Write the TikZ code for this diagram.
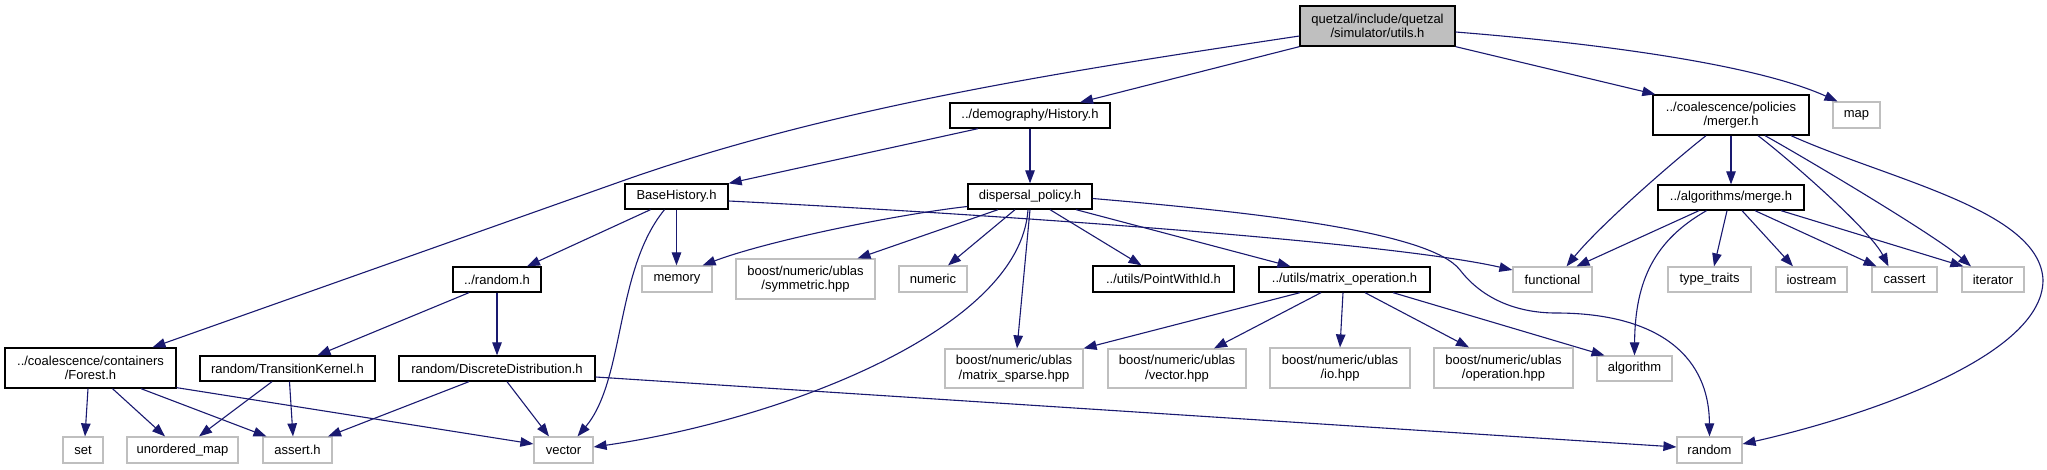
\documentclass[tikz,border=0pt]{standalone}
\usepackage{fontspec}
\setmainfont{Liberation Sans}
\usetikzlibrary{arrows.meta}
\definecolor{edgeblue}{HTML}{191970}
\definecolor{sysgray}{HTML}{BFBFBF}
\definecolor{rootfill}{HTML}{BFBFBF}
\tikzset{
  lbl/.style={font=\fontsize{13}{14.5}\selectfont, inner sep=0pt, align=center, rectangle},
  inc/.style={lbl, draw=black, line width=1.3pt, fill=white},
  sys/.style={lbl, draw=sysgray, line width=1.2pt, fill=white},
  root/.style={lbl, draw=black, line width=1.3pt, fill=rootfill},
  e/.style={draw=edgeblue, line width=1.1pt, -{Triangle[length=13pt,width=9.5pt]}},
}
\begin{document}
\begin{tikzpicture}[x=1pt,y=-1pt]
\fill[white] (0,0) rectangle (2047,469);
\useasboundingbox (0,0) rectangle (2047,469);
% nodes
\node[root, minimum width=155, minimum height=40] (utils) at (1377.5,26) {quetzal/include/quetzal\\/simulator/utils.h};
\node[inc, minimum width=160, minimum height=25] (history) at (1030,115.5) {../demography/History.h};
\node[inc, minimum width=156, minimum height=40] (merger) at (1731,115) {../coalescence/policies\\/merger.h};
\node[sys, minimum width=47, minimum height=26] (map) at (1856.5,115) {map};
\node[inc, minimum width=103, minimum height=25] (basehist) at (676.5,196.5) {BaseHistory.h};
\node[inc, minimum width=124, minimum height=25] (dispersal) at (1030,196.5) {dispersal\_policy.h};
\node[inc, minimum width=146, minimum height=25] (merge) at (1731,197.5) {../algorithms/merge.h};
\node[inc, minimum width=88, minimum height=25] (randomh) at (497,279.5) {../random.h};
\node[sys, minimum width=70, minimum height=26] (memory) at (677,279) {memory};
\node[sys, minimum width=139, minimum height=40] (symmetric) at (805.5,279) {boost/numeric/ublas\\/symmetric.hpp};
\node[sys, minimum width=68, minimum height=26] (numeric) at (933,279) {numeric};
\node[inc, minimum width=141, minimum height=26] (pointwithid) at (1163.5,279) {../utils/PointWithId.h};
\node[inc, minimum width=171, minimum height=25] (matop) at (1344.5,279.5) {../utils/matrix\_operation.h};
\node[sys, minimum width=79, minimum height=25] (functional) at (1552.5,279.5) {functional};
\node[sys, minimum width=83, minimum height=25] (typetraits) at (1709.5,279.5) {type\_traits};
\node[sys, minimum width=71, minimum height=25] (iostream) at (1811.5,279.5) {iostream};
\node[sys, minimum width=65, minimum height=25] (cassert) at (1904.5,279.5) {cassert};
\node[sys, minimum width=62, minimum height=25] (iterator) at (1993,279.5) {iterator};
\node[inc, minimum width=171, minimum height=40] (forest) at (90.5,368) {../coalescence/containers\\/Forest.h};
\node[inc, minimum width=175, minimum height=25] (kernel) at (287.5,368.5) {random/TransitionKernel.h};
\node[inc, minimum width=196, minimum height=25] (discrete) at (497,368.5) {random/DiscreteDistribution.h};
\node[sys, minimum width=138, minimum height=39] (sparse) at (1014,368.5) {boost/numeric/ublas\\/matrix\_sparse.hpp};
\node[sys, minimum width=138, minimum height=39] (ublasvector) at (1177,368.5) {boost/numeric/ublas\\/vector.hpp};
\node[sys, minimum width=140, minimum height=40] (io) at (1340,368) {boost/numeric/ublas\\/io.hpp};
\node[sys, minimum width=139, minimum height=40] (operation) at (1503.5,368) {boost/numeric/ublas\\/operation.hpp};
\node[sys, minimum width=75, minimum height=25] (algorithm) at (1634.5,368.5) {algorithm};
\node[sys, minimum width=40, minimum height=26] (set) at (83,450) {set};
\node[sys, minimum width=111, minimum height=26] (umap) at (182.5,450) {unordered\_map};
\node[sys, minimum width=69, minimum height=26] (asserth) at (297.5,450) {assert.h};
\node[sys, minimum width=59, minimum height=26] (vector) at (563.5,450) {vector};
\node[sys, minimum width=65, minimum height=26] (random) at (1709.5,450) {random};
% edges from utils.h
\draw[e] ([yshift=-10]utils.west) .. controls (1080,69) and (838,105) .. (625,180) -- ([xshift=62]forest.north);
\draw[e] (utils.south west) -- ([xshift=50]history.north);
\draw[e] (utils.south east) -- ([xshift=3]merger.north west);
\draw[e] ([yshift=-6]utils.east) .. controls (1605,44) and (1757,65) .. ([xshift=-19]map.north);
% History.h
\draw[e] ([xshift=-52]history.south) -- (basehist.north east);
\draw[e] (history.south) -- (dispersal.north);
% BaseHistory.h
\draw[e] ([xshift=-26]basehist.south) -- ([xshift=30]randomh.north);
\draw[e] (basehist.south) -- (basehist.south |- memory.north);
\draw[e] ([xshift=-12]basehist.south) .. controls (615,270) and (625,380) .. ([xshift=14]vector.north);
\draw[e] ([yshift=-4.5]basehist.east) .. controls (950,212) and (1380,240) .. ([yshift=9.5]functional.west);
% dispersal_policy.h
\draw[e] ([yshift=-10]dispersal.west) .. controls (900,214) and (770,240) .. ([xshift=-10]memory.north east);
\draw[e] ([xshift=-32]dispersal.south) -- ([xshift=52]symmetric.north);
\draw[e] ([xshift=-15]dispersal.south) -- ([xshift=15]numeric.north);
\draw[e] ([xshift=-2]dispersal.south) .. controls (1020,330) and (780,420) .. ([yshift=3]vector.east);
\draw[e] (dispersal.south) -- ([xshift=3]sparse.north);
\draw[e] ([xshift=20]dispersal.south) -- ([xshift=-22]pointwithid.north);
\draw[e] ([xshift=46]dispersal.south) -- ([xshift=-54]matop.north);
\draw[e] ([yshift=-2]dispersal.east) .. controls (1250,212) and (1430,231) .. (1460,270) .. controls (1484,301) and (1520,313) .. (1556,313) .. controls (1650,313) and (1709,350) .. (random.north);
% ../random.h
\draw[e] ([xshift=-28]randomh.south) -- ([xshift=30]kernel.north);
\draw[e] (randomh.south) -- (discrete.north);
% Forest.h
\draw[e] ([xshift=-2.5]forest.south) -- ([xshift=2]set.north);
\draw[e] ([xshift=22]forest.south) -- ([xshift=-17.5]umap.north);
\draw[e] ([xshift=50.5]forest.south) -- ([xshift=-31]asserth.north);
\draw[e] ([yshift=1]forest.south east) -- ([yshift=6]vector.west);
% TransitionKernel.h
\draw[e] ([xshift=-15.5]kernel.south) -- ([xshift=16.5]umap.north);
\draw[e] ([xshift=2]kernel.south) -- ([xshift=-4.5]asserth.north);
% DiscreteDistribution.h
\draw[e] ([xshift=-28]discrete.south) -- ([xshift=30.5]asserth.north);
\draw[e] ([xshift=10]discrete.south) -- ([xshift=-14.5]vector.north);
\draw[e] ([yshift=-8.5]discrete.east) -- ([yshift=3]random.west);
% matrix_operation.h
\draw[e] ([xshift=-44.5]matop.south) -- (sparse.north east);
\draw[e] ([xshift=-23.5]matop.south) -- ([xshift=37]ublasvector.north);
\draw[e] ([xshift=-1.5]matop.south) -- (io.north);
\draw[e] ([xshift=20.5]matop.south) -- ([xshift=-34.5]operation.north);
\draw[e] ([xshift=48.5]matop.south) -- ([xshift=-30]algorithm.north);
% merger.h
\draw[e] ([xshift=-25]merger.south) .. controls (1675,160) and (1600,225) .. ([xshift=14]functional.north);
\draw[e] (merger.south) -- (merge.north);
\draw[e] ([xshift=27]merger.south) .. controls (1790,160) and (1870,230) .. ([xshift=-16]cassert.north);
\draw[e] ([xshift=34]merger.south) .. controls (1800,155) and (1935,235) .. ([xshift=-22]iterator.north);
\draw[e] ([xshift=60]merger.south) .. controls (1890,180) and (2040,210) .. (2043,280) .. controls (2043,360) and (1850,420) .. ([yshift=6]random.east);
% merge.h
\draw[e] ([xshift=-32]merge.south) -- ([xshift=24]functional.north);
\draw[e] ([xshift=-24.5]merge.south) .. controls (1655,240) and (1635,280) .. (algorithm.north);
\draw[e] ([xshift=-4]merge.south) -- ([xshift=4.5]typetraits.north);
\draw[e] ([xshift=11]merge.south) -- ([xshift=-18.5]iostream.north);
\draw[e] ([xshift=24]merge.south) -- ([xshift=-28]cassert.north);
\draw[e] ([xshift=50]merge.south) -- ([xshift=2]iterator.north west);
\end{tikzpicture}
\end{document}
